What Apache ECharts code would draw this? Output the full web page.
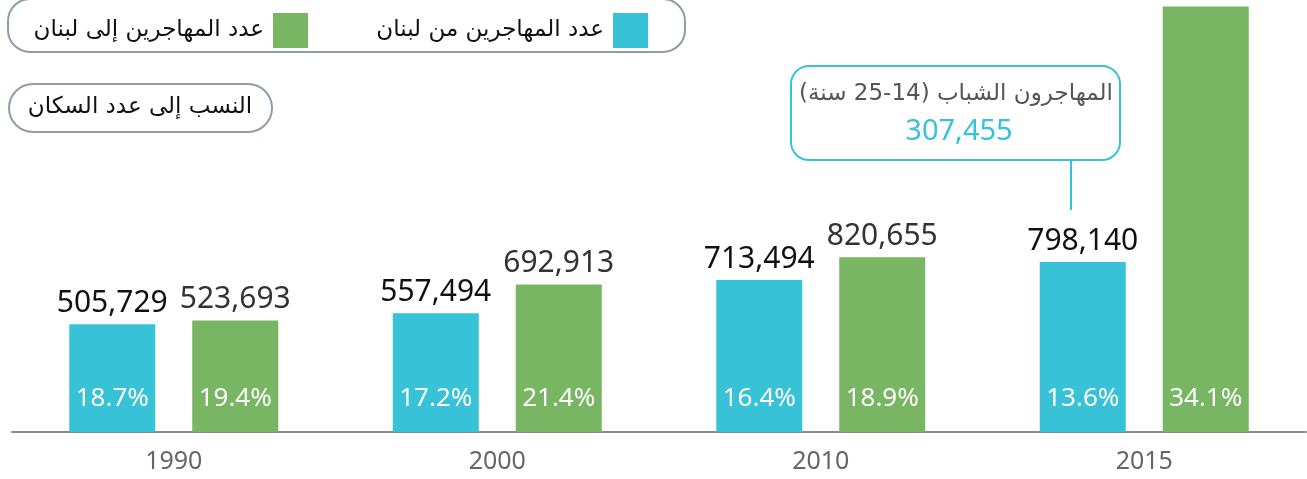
<!DOCTYPE html>
<html>
<head>
<meta charset="utf-8">
<script src="https://cdn.jsdelivr.net/npm/echarts@6/dist/echarts.min.js"></script>
<style>
html,body{margin:0;padding:0;background:#fff;}
#chart{width:1307px;height:479px;}
</style>
</head>
<body>
<div id="chart"></div>
<script>
// ---- data ----
const years = ['1990', '2000', '2010', '2015'];
const emigrants = [505729, 557494, 713494, 798140];          // من لبنان
const immigrants = [523693, 692913, 820655, 1997776];        // إلى لبنان
const emigrantsPct = ['18.7%', '17.2%', '16.4%', '13.6%'];
const immigrantsPct = ['19.4%', '21.4%', '18.9%', '34.1%'];
const immigrantsLabelShown = [true, true, true, false];
const youthEmigrants = 307455;

const nameOut = 'عدد المهاجرين من لبنان';
const nameIn = 'عدد المهاجرين إلى لبنان';
const ratioTitle = 'النسب إلى عدد السكان';
const youthTitle = 'المهاجرون الشباب (14-25 سنة)';

const CYAN = '#38c2d7';
const GREEN = '#78b664';
const BOX = '#8c9ca8';
const arFont = 'DejaVu Sans';
const numFont = 'Noto Sans';

const fmt = v => v.toLocaleString('en-US');

const chart = echarts.init(document.getElementById('chart'));

const barCommon = {
  type: 'bar',
  barWidth: 86,
  barGap: '43%'
};

const option = {
  animation: false,
  grid: { left: 12, right: 1, top: 0, bottom: 47 },
  legend: [
    {
      data: [nameOut], right: 654, top: 8, icon: 'rect', itemWidth: 35, itemHeight: 35,
      align: 'right', selectedMode: false,
      textStyle: { fontFamily: arFont, fontSize: 23, color: '#111', padding: [0, 4, 0, 0] }
    },
    {
      data: [nameIn], right: 994, top: 8, icon: 'rect', itemWidth: 35, itemHeight: 35,
      align: 'right', selectedMode: false,
      textStyle: { fontFamily: arFont, fontSize: 23, color: '#111', padding: [0, 4, 0, 0] }
    }
  ],
  xAxis: [
    {
      type: 'category', data: years,
      axisTick: { show: false },
      axisLine: { lineStyle: { color: '#8a8a8a', width: 2 } },
      axisLabel: { fontFamily: numFont, fontSize: 25, color: '#666', margin: 17 }
    },
    { type: 'category', data: years, show: false }
  ],
  yAxis: { type: 'value', min: 0, max: 2028000, show: false, splitLine: { show: false } },
  series: [
    Object.assign({}, barCommon, {
      name: nameOut, xAxisIndex: 0,
      itemStyle: { color: CYAN },
      data: emigrants,
      label: { show: true, position: 'top', distance: 6, fontFamily: numFont, fontSize: 30, color: '#111', formatter: p => fmt(p.value) }
    }),
    Object.assign({}, barCommon, {
      name: nameIn, xAxisIndex: 0,
      itemStyle: { color: GREEN },
      data: immigrants.map((v, i) => ({ value: v, label: { show: immigrantsLabelShown[i] } })),
      label: { show: true, position: 'top', distance: 6, fontFamily: numFont, fontSize: 30, color: '#333', formatter: p => fmt(p.value) }
    }),
    Object.assign({}, barCommon, {
      name: 'pctOut', xAxisIndex: 1, silent: true,
      itemStyle: { color: 'rgba(0,0,0,0)' },
      data: emigrants,
      label: { show: true, position: 'insideBottom', distance: 20, fontFamily: numFont, fontSize: 26, color: '#fff', formatter: p => emigrantsPct[p.dataIndex] }
    }),
    Object.assign({}, barCommon, {
      name: 'pctIn', xAxisIndex: 1, silent: true,
      itemStyle: { color: 'rgba(0,0,0,0)' },
      data: immigrants,
      label: { show: true, position: 'insideBottom', distance: 20, fontFamily: numFont, fontSize: 26, color: '#fff', formatter: p => immigrantsPct[p.dataIndex] }
    })
  ],
  graphic: [
    { type: 'rect', z: -1, shape: { x: 8, y: -1, width: 677, height: 53, r: 22 }, style: { fill: '#fff', stroke: BOX, lineWidth: 2 } },
    { type: 'rect', shape: { x: 9, y: 84, width: 263, height: 48, r: 24 }, style: { fill: '#fff', stroke: BOX, lineWidth: 2 } },
    { type: 'text', x: 140, y: 107, style: { text: ratioTitle, font: '23px "' + arFont + '"', fill: '#111', align: 'center', verticalAlign: 'middle' } },
    { type: 'rect', shape: { x: 791, y: 66, width: 329, height: 94, r: 18 }, style: { fill: '#fff', stroke: CYAN, lineWidth: 2 } },
    { type: 'line', shape: { x1: 1071, y1: 160, x2: 1071, y2: 210 }, style: { stroke: CYAN, lineWidth: 2 } },
    { type: 'text', x: 956, y: 94, style: { text: youthTitle, font: '23px "' + arFont + '"', fill: '#555', align: 'center', verticalAlign: 'middle' } },
    { type: 'text', x: 959, y: 132, style: { text: fmt(youthEmigrants), font: '29px "' + numFont + '"', fill: CYAN, align: 'center', verticalAlign: 'middle' } }
  ]
};
chart.setOption(option);
</script>
</body>
</html>
